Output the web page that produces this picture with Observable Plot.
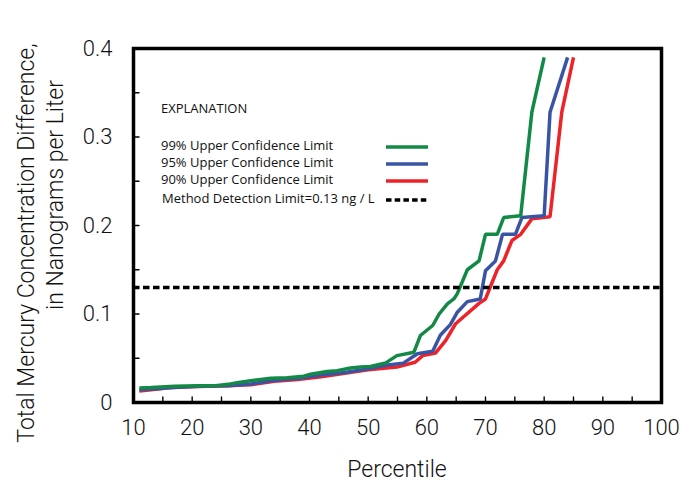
<!DOCTYPE html>
<html>
<head>
<meta charset="utf-8">
<script src="https://cdn.jsdelivr.net/npm/d3@7"></script>
<script src="https://cdn.jsdelivr.net/npm/@observablehq/plot@0.6"></script>
<style>
  body { margin: 0; background: #fff; }
  #chart { width: 694px; height: 487px; }
</style>
</head>
<body>
<div id="chart"></div>
<script>
// Percentile of the distribution and the concentration difference (ng/L) at that percentile
const ucl99Pct = [11, 13, 17, 21, 24, 26.5, 28.2, 31, 33.4, 36.2, 39, 40.2, 43, 44.7, 47, 48.7, 50.4, 53, 54.9, 57.8, 58.9, 61, 62.1, 63.5, 64.6, 65.2, 66.9, 68.9, 70, 72, 73.1, 76, 77.9, 80];
const ucl99Val = [0.0165, 0.017, 0.0185, 0.019, 0.019, 0.021, 0.023, 0.0255, 0.0275, 0.028, 0.0297, 0.032, 0.035, 0.036, 0.039, 0.040, 0.0407, 0.0448, 0.053, 0.0568, 0.0757, 0.087, 0.100, 0.1115, 0.117, 0.123, 0.150, 0.160, 0.190, 0.190, 0.209, 0.211, 0.328, 0.390];

const ucl95Pct = [11, 17, 21, 26, 30, 34, 38, 42, 46, 50, 53, 56, 58.4, 61, 62.3, 64, 65.2, 66.9, 69.1, 70, 71.7, 72.9, 75.1, 76.2, 80, 81, 84];
const ucl95Val = [0.0145, 0.017, 0.0185, 0.019, 0.021, 0.025, 0.027, 0.031, 0.034, 0.038, 0.042, 0.0445, 0.055, 0.058, 0.076, 0.088, 0.102, 0.114, 0.117, 0.149, 0.160, 0.190, 0.190, 0.209, 0.211, 0.328, 0.390];

const ucl90Pct = [11, 14.6, 16, 21, 26, 30, 34, 38, 42, 46, 50, 54.9, 58, 59.3, 61.5, 63.2, 64.9, 68.9, 70, 72, 73.1, 74.5, 76, 77.9, 81, 83, 85];
const ucl90Val = [0.013, 0.0155, 0.017, 0.018, 0.019, 0.020, 0.024, 0.026, 0.029, 0.033, 0.037, 0.040, 0.0455, 0.053, 0.056, 0.070, 0.089, 0.112, 0.117, 0.150, 0.160, 0.183, 0.190, 0.2075, 0.210, 0.328, 0.390];

const detectionLimit = 0.13;

const seriesNames = ["99% Upper Confidence Limit", "95% Upper Confidence Limit", "90% Upper Confidence Limit"];
const seriesColors = ["#128a45", "#3a54a5", "#ee2329"];
const detectionLabel = "Method Detection Limit=0.13 ng / L";

const xMajorTicks = [10, 20, 30, 40, 50, 60, 70, 80, 90, 100];
const xMinorTicks = [15, 20, 25, 30, 35, 40, 45, 50, 55, 60, 65, 70, 75, 80, 85, 90, 95];
const yMajorTicks = [0, 0.1, 0.2, 0.3, 0.4];
const yMinorTicks = [0.05, 0.1, 0.15, 0.2, 0.25, 0.3, 0.35];

// Long table for Plot, drawn 90% first so the 99% curve sits on top
const rows = [
  ...ucl90Pct.map((p, i) => ({series: seriesNames[2], pct: p, value: ucl90Val[i]})),
  ...ucl95Pct.map((p, i) => ({series: seriesNames[1], pct: p, value: ucl95Val[i]})),
  ...ucl99Pct.map((p, i) => ({series: seriesNames[0], pct: p, value: ucl99Val[i]}))
];

const tickFont = "Roboto, 'Liberation Sans', sans-serif";

// A plain straight stroke for the inward tick marks
const tickShape = {draw(context, l) { context.moveTo(0, 0); context.lineTo(0, -l); }};

const chart = Plot.plot({
  width: 694,
  height: 487,
  marginLeft: 133,
  marginRight: 33,
  marginTop: 48,
  marginBottom: 85,
  style: {fontFamily: tickFont, color: "#111", background: "#fff"},
  x: {domain: [10, 100]},
  y: {domain: [0, 0.4]},
  color: {domain: seriesNames, range: seriesColors},
  marks: [
    Plot.line(rows, {x: "pct", y: "value", z: "series", stroke: "series", strokeWidth: 3.5, strokeLinejoin: "miter", strokeLinecap: "butt"}),
    Plot.ruleY([detectionLimit], {stroke: "#000", strokeWidth: 3.5, strokeDasharray: "6.5,3.5"}),
    // inward minor ticks along the bottom and left edges
    Plot.vector(xMinorTicks, {x: d => d, frameAnchor: "bottom", length: 5.5, anchor: "start", rotate: 0, shape: tickShape, stroke: "#000", strokeWidth: 1.4}),
    Plot.vector(yMinorTicks, {y: d => d, frameAnchor: "left", length: 5.5, anchor: "start", rotate: 90, shape: tickShape, stroke: "#000", strokeWidth: 1.4}),
    // tick labels
    Plot.axisX({ticks: xMajorTicks, tickSize: 0, tickPadding: 17, fontSize: 22, fontWeight: 300, tickFormat: d => String(d), label: null}),
    Plot.axisY({ticks: yMajorTicks, tickSize: 0, tickPadding: 21, fontSize: 22, fontWeight: 300, tickFormat: d => d === 0 ? "0" : d.toFixed(1), label: null}),
    Plot.frame({stroke: "#000", strokeWidth: 3.5})
  ]
});

document.getElementById("chart").appendChild(chart);

const svg = d3.select(chart);

// Axis titles
svg.append("text")
  .attr("x", 397).attr("y", 471)
  .attr("text-anchor", "middle").attr("dominant-baseline", "middle")
  .attr("font-family", tickFont).attr("font-size", 23).attr("font-weight", 300)
  .attr("fill", "#111")
  .text("Percentile");

const yTitle = svg.append("g")
  .attr("font-family", tickFont).attr("font-size", 23).attr("font-weight", 300)
  .attr("fill", "#111").attr("text-anchor", "middle");
yTitle.append("text")
  .attr("transform", "translate(28,243) rotate(-90)")
  .attr("dominant-baseline", "middle")
  .text("Total Mercury Concentration Difference,");
yTitle.append("text")
  .attr("transform", "translate(57,195) rotate(-90)")
  .attr("dominant-baseline", "middle")
  .text("in Nanograms per Liter");

// Explanation box
const legendFont = "'Open Sans', 'DejaVu Sans', sans-serif";
const legend = svg.append("g")
  .attr("font-family", legendFont).attr("font-size", 13).attr("fill", "#111")
  .attr("text-anchor", "start");
legend.append("text").attr("x", 161).attr("y", 110).attr("dominant-baseline", "middle").text("EXPLANATION");

const legendRows = [
  {label: seriesNames[0], color: seriesColors[0], y: 147, dash: null},
  {label: seriesNames[1], color: seriesColors[1], y: 164, dash: null},
  {label: seriesNames[2], color: seriesColors[2], y: 181, dash: null},
  {label: detectionLabel, color: "#000", y: 200, dash: "5.5,3.2"}
];
legendRows.forEach((r, i) => {
  legend.append("text")
    .attr("x", i === 3 ? 162 : 161).attr("y", r.y)
    .attr("dominant-baseline", "middle")
    .text(r.label);
  const ln = legend.append("line")
    .attr("x1", 386).attr("x2", 428)
    .attr("y1", r.y).attr("y2", r.y)
    .attr("stroke", r.color).attr("stroke-width", 3.5);
  if (r.dash) ln.attr("stroke-dasharray", r.dash);
});
</script>
</body>
</html>
